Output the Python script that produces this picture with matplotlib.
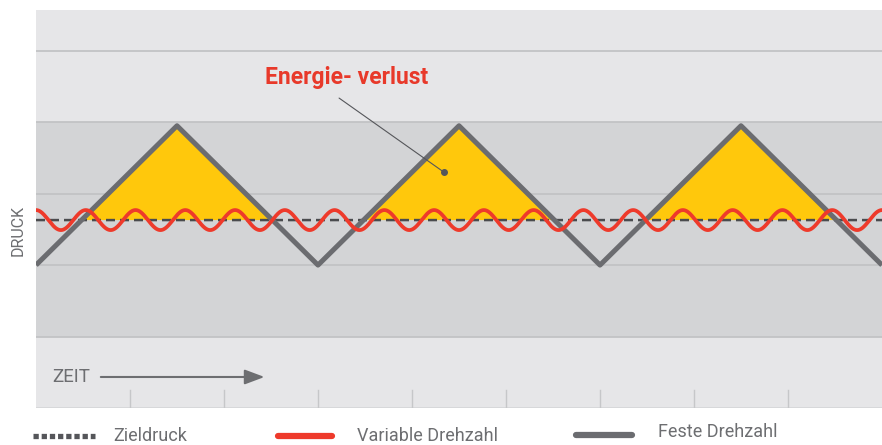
import matplotlib
matplotlib.use("Agg")
import matplotlib.pyplot as plt
import numpy as np
from matplotlib.lines import Line2D

# ---- data ----
# fixed-speed pressure (triangle wave) vertices
fixed_x = [0, 1.5, 3, 4.5, 6, 7.5, 9]
fixed_y = [2.0, 3.95, 2.0, 3.95, 2.0, 3.95, 2.0]
# target pressure
target_level = 2.63
# variable-speed pressure (small oscillation around target)
var_center = 2.63
var_amplitude = 0.14
var_cycles = 17
# background bands (y ranges)
band_edges = [0, 1, 4, 5.57]
band_colors = ["#e6e6e8", "#d3d4d6", "#e6e6e8"]
grid_levels = [1, 2, 3, 4, 5]
tick_positions = [1, 2, 3, 4, 5, 6, 7, 8]
legend_labels = ["Zieldruck", "Variable Drehzahl", "Feste Drehzahl"]
annotation_text = "Energie- verlust"
x_label = "ZEIT"
y_label = "DRUCK"

GRAY = "#6b6c70"
RED = "#ee3a2b"
YELLOW = "#ffc80c"
DASH = "#4a4b4e"
TXT = "#6d6e71"

plt.rcParams['font.family'] = ['Roboto', 'DejaVu Sans']

fig = plt.figure(figsize=(8.82, 4.45), dpi=100)
ax = fig.add_axes([36/882, 37/445, 846/882, 398/445])
xmin, xmax = 0, 9
ax.set_xlim(xmin, xmax)
ax.set_ylim(band_edges[0], band_edges[-1])
ax.axis("off")

for lo, hi, c in zip(band_edges[:-1], band_edges[1:], band_colors):
    ax.axhspan(lo, hi, color=c, zorder=0, lw=0)
for g in grid_levels:
    ax.axhline(g, color="#c2c3c5", lw=1.3, zorder=1)
ax.axhline(0, color="#d6d7d9", lw=2, zorder=1)
for t in tick_positions:
    ax.plot([t, t], [0, 0.25], color="#c6c7c9", lw=1, zorder=1)

# dense sampling of series for drawing
xs = np.linspace(xmin, xmax, 3000)
fixed = np.interp(xs, fixed_x, fixed_y)
var = var_center + var_amplitude * np.cos(2 * np.pi * var_cycles * xs / (xmax - xmin))

ax.fill_between(xs, target_level, fixed, where=fixed > target_level,
                color=YELLOW, lw=0, zorder=2, interpolate=True)
ax.plot(xs, np.full_like(xs, target_level), color=DASH, lw=1.8,
        dashes=(3.6, 2.0), zorder=3)
ax.plot(fixed_x, fixed_y, color=GRAY, lw=3.6, solid_joinstyle="round",
        solid_capstyle="butt", zorder=4)
ax.plot(xs, var, color=RED, lw=2.7, zorder=5)

# annotation
ax.annotate("", xy=(4.34, 3.3), xytext=(3.2, 4.36),
            arrowprops=dict(arrowstyle="-", color="#55565a", lw=0.8), zorder=6)
ax.plot([4.34], [3.3], "o", color="#55565a", ms=4, zorder=6)
ax.text(2.44, 4.62, annotation_text, color="#e8392a", fontsize=16.5,
        fontweight="bold", ha="left", va="center", zorder=6)

# time arrow
ax.text(0.17, 0.434, x_label, color=TXT, fontsize=13.5, ha="left", va="center")
ax.annotate("", xy=(2.46, 0.434), xytext=(0.66, 0.434),
            arrowprops=dict(arrowstyle="-|>,head_length=1.2,head_width=0.45",
                            color=TXT, lw=1.5))

fig.text(18/882, 1 - 231/445, y_label, rotation=90, color=TXT, fontsize=11.5,
         ha="center", va="center")

# legend
ly = 1 - 436/445
fig.add_artist(Line2D([33/882, 95/882], [ly, ly], color="#55565a", lw=3.8,
                      dashes=(1.0, 0.55), solid_capstyle="butt", dash_capstyle="butt"))
fig.add_artist(Line2D([278/882, 332/882], [ly, ly], color=RED, lw=4.5,
                      solid_capstyle="round"))
fig.add_artist(Line2D([576/882, 632/882], [1 - 435/445, 1 - 435/445], color=GRAY,
                      lw=4.5, solid_capstyle="round"))
fig.text(113/882, ly, legend_labels[0], color=TXT, fontsize=13,
         ha="left", va="center")
fig.text(357/882, ly, legend_labels[1], color=TXT, fontsize=13,
         ha="left", va="center")
fig.text(658/882, 1 - 432/445, legend_labels[2], color=TXT, fontsize=13,
         ha="left", va="center")

fig.savefig("out.png", dpi=100)
